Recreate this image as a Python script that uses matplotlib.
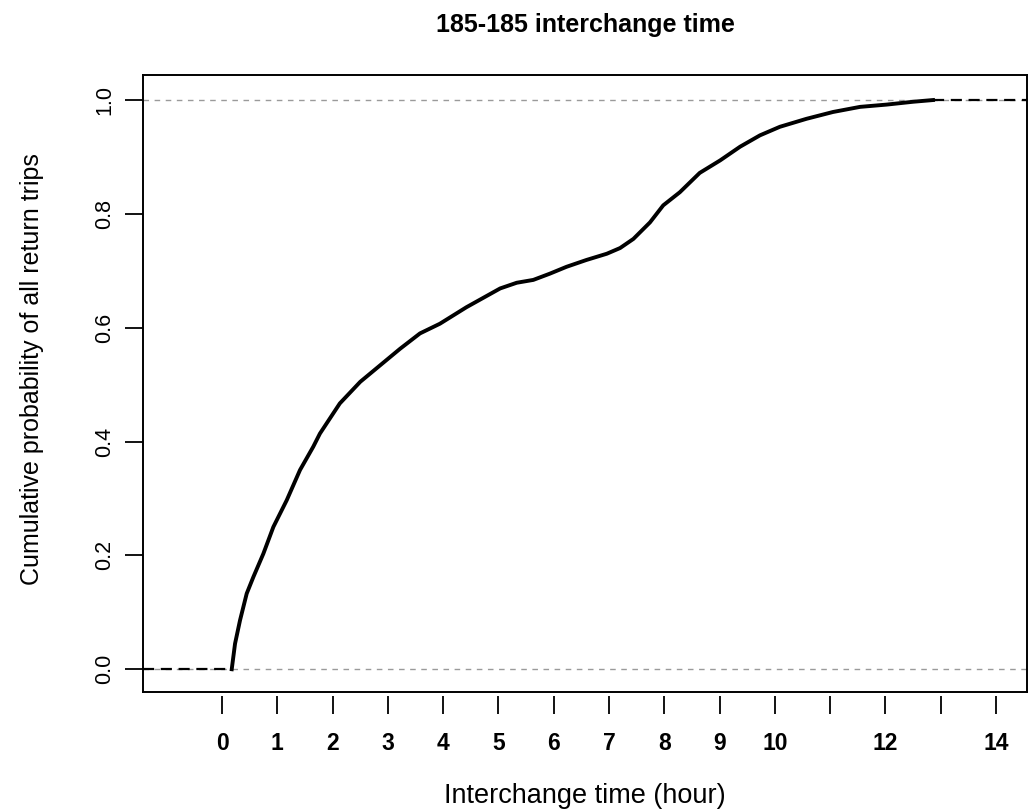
import matplotlib
matplotlib.use('Agg')
import matplotlib.pyplot as plt

# Empirical CDF of 185-185 interchange time (hours)
hours = [0.175, 0.235, 0.325, 0.446, 0.566, 0.747, 0.928, 1.17, 1.41, 1.65,
         1.77, 2.13, 2.50, 2.86, 3.22, 3.58, 3.94, 4.42, 5.03, 5.33,
         5.63, 5.93, 6.23, 6.59, 6.96, 7.20, 7.44, 7.74, 7.98, 8.28,
         8.64, 9.01, 9.37, 9.73, 10.09, 10.57, 11.05, 11.54, 12.02, 12.50,
         12.86]
cum_prob = [0.0, 0.045, 0.086, 0.133, 0.162, 0.203, 0.250, 0.297, 0.350, 0.391,
            0.414, 0.467, 0.505, 0.534, 0.563, 0.590, 0.607, 0.636, 0.669, 0.679,
            0.684, 0.695, 0.707, 0.719, 0.730, 0.740, 0.756, 0.785, 0.815, 0.838,
            0.872, 0.894, 0.918, 0.938, 0.953, 0.967, 0.979, 0.988, 0.992, 0.997,
            1.0]

x_ticks = list(range(0, 15))
x_ticklabels = ['0', '1', '2', '3', '4', '5', '6', '7', '8', '9', '10',
                '', '12', '', '14']
y_ticks = [0.0, 0.2, 0.4, 0.6, 0.8, 1.0]
y_ticklabels = ['0.0', '0.2', '0.4', '0.6', '0.8', '1.0']

plt.rcParams['font.family'] = ['Liberation Sans', 'DejaVu Sans']

fig = plt.figure(figsize=(10.31, 8.09), dpi=100)
ax = fig.add_axes([143 / 1031, 1 - 692 / 809, (1027 - 143) / 1031, (692 - 75) / 809])

xmin, xmax = -1.43, 14.56
ax.set_xlim(xmin, xmax)
ax.set_ylim(-0.04, 1.044)

# reference lines at 0 and 1
for yv in (0.0, 1.0):
    ax.axhline(yv, color='#9a9a9a', lw=1.0, dashes=(4, 4), zorder=1)

# ecdf body plus flat tails
ax.plot(hours, cum_prob, color='black', lw=2.8, solid_joinstyle='round', zorder=3)
ax.plot([xmin, hours[0]], [cum_prob[0], cum_prob[0]], color='black', lw=1.6,
        dashes=(5, 3), zorder=2)
ax.plot([hours[-1], xmax], [cum_prob[-1], cum_prob[-1]], color='black', lw=1.6,
        dashes=(5, 3), zorder=2)

for s in ax.spines.values():
    s.set_linewidth(1.4)

ax.set_yticks(y_ticks)
ax.set_yticklabels(y_ticklabels, rotation=90, va='center', fontsize=15.5)
ax.tick_params(axis='y', length=13, width=1.3, pad=7)
ax.set_ylabel('Cumulative probability of all return trips', fontsize=18)
ax.yaxis.set_label_coords(-0.112, 0.523)

# x axis drawn detached just under the frame
ax.set_xticks([])
sec = ax.secondary_xaxis(-0.007)
sec.spines['bottom'].set_visible(False)
sec.set_xticks(x_ticks)
sec.set_xticklabels(x_ticklabels, fontsize=16.5, fontweight='bold')
sec.tick_params(axis='x', length=13, width=1.3, pad=13)
sec.set_xlabel('Interchange time (hour)', fontsize=19.5, labelpad=20)

ax.set_title('185-185 interchange time', fontsize=18, fontweight='bold', pad=31)

fig.savefig('out.png', dpi=100)
